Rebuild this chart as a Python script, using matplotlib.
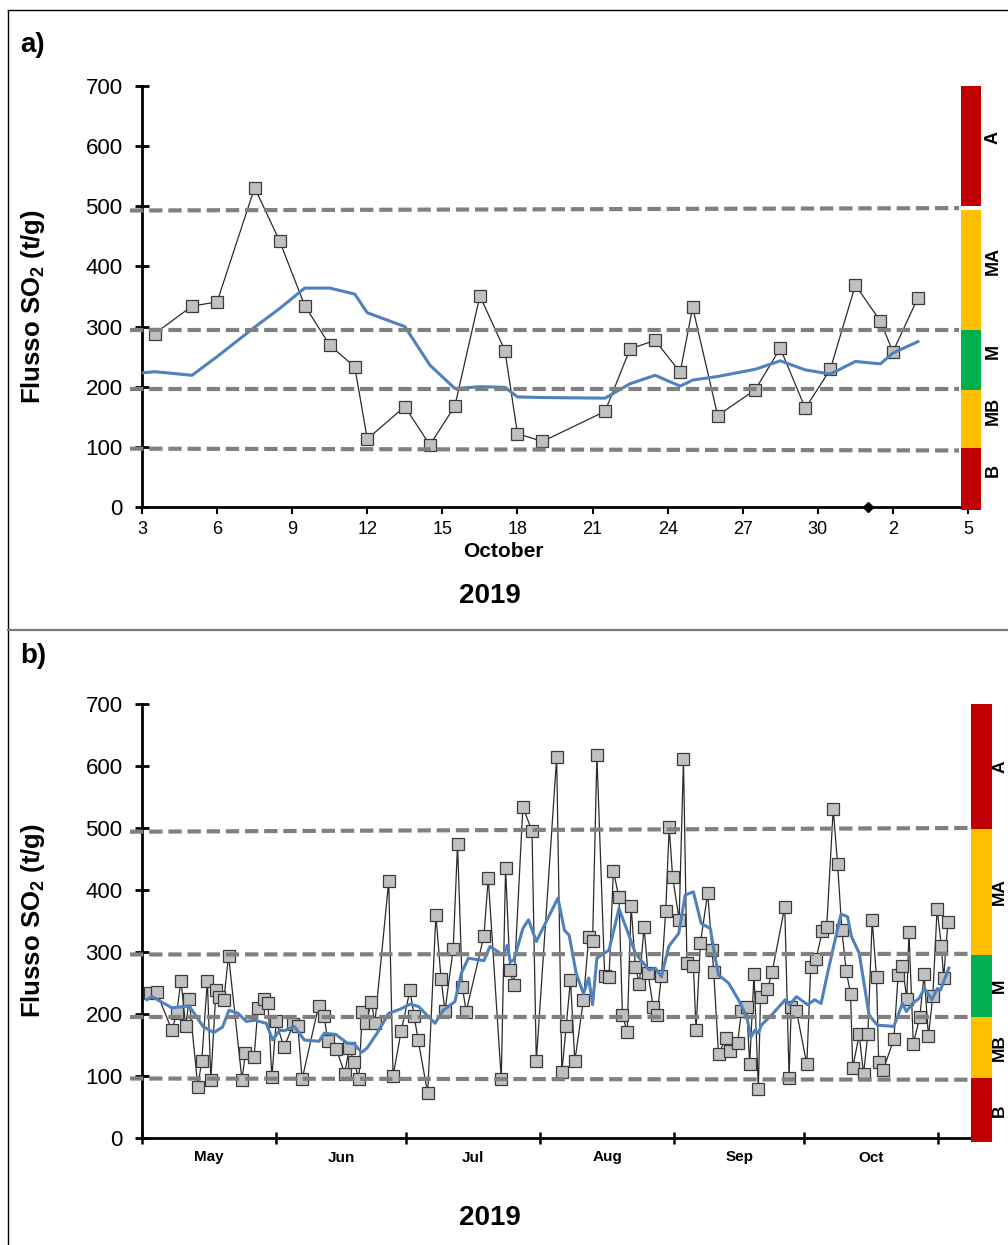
import matplotlib
matplotlib.use("Agg")
import matplotlib.pyplot as plt
from matplotlib.lines import Line2D
from matplotlib.patches import Rectangle

plt.rcParams['font.family'] = ['Liberation Sans', 'DejaVu Sans']
plt.rcParams['mathtext.fontset'] = 'custom'
plt.rcParams['mathtext.rm'] = 'Liberation Sans'
plt.rcParams['mathtext.bf'] = 'Liberation Sans:bold'

# ---------------- data ----------------
# Panel a: days from the first tick ("3")
a_days = [0.5, 2, 3, 4.5, 5.5, 6.5, 7.5, 8.5, 9, 10.5, 11.5, 12.5, 13.5, 14.5, 15,
          16, 18.5, 19.5, 20.5, 21.5, 22, 23, 24.5, 25.5, 26.5, 27.5, 28.5, 29.5, 30, 31]
a_flux = [288, 334, 341, 531, 442, 335, 269, 233, 113, 167, 103, 168, 351, 260, 122,
          109, 159, 263, 277, 224, 332, 152, 195, 264, 164, 229, 369, 309, 258, 348]
a_mean_days = [0, 0.5, 2, 3, 4.5, 5.5, 6.5, 7.5, 8.5, 9, 10.5, 11.5, 12.5, 13.5, 14.5,
               15, 16, 18.5, 19.5, 20.5, 21.5, 22, 23, 24.5, 25.5, 26.5, 27.5, 28.5,
               29.5, 30, 31]
a_mean = [223, 225, 219, 250, 299, 330, 364, 364, 354, 323, 300, 236, 197, 200, 199,
          183, 182, 181, 205, 219, 201, 211, 217, 229, 243, 228, 221, 242, 238, 256, 275]
a_tick_days = [0, 3, 6, 9, 12, 15, 18, 21, 24, 27, 30, 33]
a_tick_labels = ['3', '6', '9', '12', '15', '18', '21', '24', '27', '30', '2', '5']
a_marker_day = 29
a_level_start = [97, 196, 295, 493]
a_level_end = [94, 196, 295, 497]

# Panel b: days from 1 May; the last part is the same series as panel a
a_start_in_b = 155.2
b_days_early = [1.9, 3.4, 6.9, 8.0, 9.0, 10.1, 10.9, 12.9, 13.8, 15.1,
                15.9, 17.1, 17.8, 18.9, 20.0, 23.1, 23.9, 25.9, 26.8, 28.1,
                29.1, 30.0, 31.0, 32.8, 35.0, 36.0, 37.0, 40.8, 42.1, 42.9,
                44.9, 46.8, 47.9, 49.0, 50.1, 50.9, 51.8, 53.0, 53.8, 57.0,
                58.0, 59.9, 61.9, 62.9, 63.8, 66.0, 67.9, 69.1, 70.0, 71.9,
                72.9, 74.0, 74.9, 79.0, 80.0, 83.0, 84.0, 85.0, 85.9, 88.0,
                90.1, 91.1, 95.8, 97.0, 98.0, 99.0, 100.0, 102.0, 103.2, 104.1,
                105.1, 106.9, 107.9, 108.9, 110.2, 111.0, 112.1, 113.0, 114.0, 114.9,
                116.0, 116.9, 118.1, 119.0, 120.0, 121.0, 121.8, 122.6, 124.1, 125.1,
                125.9, 127.4, 128.0, 129.0, 130.7, 131.7, 132.1, 133.2, 134.9, 135.8,
                137.6, 138.5, 139.7, 140.4, 141.4, 142.4, 142.9, 144.5, 145.6, 148.5,
                149.5, 150.0, 151.2, 153.6, 154.5]
b_flux_early = [234, 235, 174, 201, 254, 180, 224, 83, 124, 254,
                94, 239, 228, 223, 294, 94, 137, 131, 210, 225,
                218, 98, 188, 146, 184, 180, 95, 213, 197, 156,
                144, 104, 145, 123, 95, 203, 185, 220, 185, 414,
                100, 173, 238, 196, 158, 72, 360, 256, 205, 305,
                474, 244, 204, 326, 419, 95, 436, 271, 246, 534,
                495, 124, 614, 106, 180, 255, 124, 223, 324, 317,
                617, 262, 259, 431, 388, 198, 171, 375, 276, 248,
                341, 266, 212, 198, 261, 366, 501, 421, 352, 611,
                283, 278, 174, 314, 395, 304, 267, 135, 161, 141,
                153, 205, 212, 119, 265, 79, 227, 240, 268, 373,
                97, 212, 205, 119, 276]
b_days = b_days_early + [d + a_start_in_b for d in a_days]
b_flux = b_flux_early + a_flux
b_mean_days = [1.1, 2.3, 6.9, 10.9, 14.1, 16.6, 18.6, 20.1, 22.2, 24.1, 26.0, 28.7,
               30.2, 31.8, 32.9, 35.2, 37.5, 40.9, 42.1, 44.8, 47.4, 49.0, 50.7, 52.0,
               54.3, 57.0, 59.7, 62.0, 63.9, 67.7, 69.6, 72.3, 73.8, 75.4, 79.0, 80.4,
               83.4, 84.4, 85.1, 85.9, 88.0, 89.3, 91.1, 96.1, 97.6, 98.7, 100.3, 102.0,
               103.2, 104.1, 105.1, 107.9, 110.2, 112.5, 114.0, 117.1, 118.6, 120.0,
               121.7, 124.0, 125.5, 127.4, 129.2, 131.3, 132.4, 133.2, 135.5, 137.8,
               139.7, 140.7, 141.6, 142.4, 143.1, 145.8, 148.6, 149.6, 151.2, 153.8,
               155.4, 156.9, 158.4, 160.3, 161.5, 163.0, 163.9, 165.7, 166.8, 168.0,
               169.9, 173.7, 175.7, 176.6, 178.0, 179.5, 180.8, 182.5, 183.7, 184.5, 186.4]
b_mean = [223, 228, 210, 213, 180, 170, 179, 206, 201, 188, 190, 185,
          158, 174, 173, 180, 158, 156, 169, 167, 153, 152, 138, 145,
          169, 201, 208, 216, 212, 185, 206, 220, 266, 290, 286, 309,
          295, 311, 284, 287, 338, 352, 317, 387, 335, 327, 266, 233,
          258, 215, 290, 303, 370, 327, 298, 271, 274, 260,
          309, 330, 392, 397, 346, 338, 292, 263, 250, 223,
          196, 163, 174, 169, 182, 201, 223, 215, 228, 215,
          223, 217, 266, 325, 361, 357, 325, 298, 250, 198,
          182, 180, 217, 204, 217, 225, 241, 223, 241, 239, 274]
b_month_starts = [0, 31, 61, 92, 123, 153, 184]
b_month_labels = ['May', 'Jun', 'Jul', 'Aug', 'Sep', 'Oct']
b_level_start = [96, 195, 296, 494]
b_level_end = [94, 195, 297, 500]

# activity classes (bands of the colour bar)
band_names = ['B', 'MB', 'M', 'MA', 'A']
band_colors = ['#C00000', '#FFC000', '#00B050', '#FFC000', '#C00000']
a_band_lo = [-5, 98, 194, 295, 500]
a_band_hi = [98, 194, 295, 494, 700]
b_band_lo = [-7, 96, 195, 295, 499]
b_band_hi = [96, 195, 295, 499, 700]

# ---------------- figure ----------------
W, H = 1008, 1245
fig = plt.figure(figsize=(W / 100, H / 100), dpi=100)
fig.patch.set_facecolor('white')


def fbox(left, top, right, bottom):
    return [left / W, 1 - bottom / H, (right - left) / W, (bottom - top) / H]


def fig_line(x0, y0, x1, y1, **kw):
    fig.add_artist(Line2D([x0 / W, x1 / W], [1 - y0 / H, 1 - y1 / H],
                          transform=fig.transFigure, **kw))


def fig_text(x, y, s, **kw):
    fig.text(x / W, 1 - y / H, s, ha='center', va='center', **kw)


# frame around the two panels
fig_line(8, 10, 1008, 10, color='black', lw=1.0)
fig_line(8, 10, 8, 1245, color='black', lw=1.0)
fig_line(8, 630, 1008, 630, color='#7a7a7a', lw=1.6)

ylabel = r'Flusso SO$_\mathbf{2}$ (t/g)'


def style_axes(ax, xmin, xmax):
    ax.set_ylim(0, 700)
    ax.set_xlim(xmin, xmax)
    for s in ['top', 'right']:
        ax.spines[s].set_visible(False)
    for s in ['left', 'bottom']:
        ax.spines[s].set_linewidth(2.0)
        ax.spines[s].set_color('black')
    ax.set_yticks(range(0, 701, 100))
    ax.tick_params(axis='y', direction='inout', length=10, width=2.0,
                   labelsize=16, pad=9)
    ax.set_ylabel(ylabel, fontsize=18.5, fontweight='bold')
    ax.patch.set_alpha(0)


def draw_series(ax, days, flux, mdays, mean):
    ax.plot(days, flux, '-', color='#2b2b2b', lw=0.9, zorder=3)
    ax.plot(days, flux, 's', ms=8.8, mfc='#C0C0C0', mec='#3a3a3a', mew=0.9, zorder=4)
    ax.plot(mdays, mean, '-', color='#4F81BD', lw=2.2, zorder=5)


def draw_levels(ax, x0_ax, x1_ax, lo_start, lo_end):
    for y0, y1 in zip(lo_start, lo_end):
        ax.add_line(Line2D([x0_ax, x1_ax], [y0, y1], transform=ax.get_yaxis_transform(),
                           color='#808080', lw=3.0, dashes=(3.2, 1.4),
                           clip_on=False, zorder=6))


def draw_bar(box, lo, hi, label_x, label_dy, label_size):
    axb = fig.add_axes(box)
    axb.set_xlim(0, 1)
    axb.set_ylim(0, 700)
    axb.axis('off')
    for l, h, c, n in zip(lo, hi, band_colors, band_names):
        axb.add_patch(Rectangle((0, l), 1, h - l, facecolor=c, edgecolor='none',
                                clip_on=False))
        axb.text(label_x, (l + h) / 2 + label_dy, n, rotation=90, ha='center',
                 va='center', fontsize=label_size, fontweight='bold', clip_on=False)


# ---------------- panel a ----------------
axa = fig.add_axes(fbox(142, 86, 968, 507))
style_axes(axa, 0, 33)
axa.set_xticks(a_tick_days)
axa.set_xticklabels(a_tick_labels)
axa.tick_params(axis='x', direction='out', length=5, width=1.5, labelsize=13, pad=5)
axa.yaxis.set_label_coords((47 - 142) / 826, 0.475)
draw_series(axa, a_days, a_flux, a_mean_days, a_mean)
axa.plot([a_marker_day], [0], 'D', color='black', ms=5, clip_on=False, zorder=7)
draw_levels(axa, (130 - 142) / 826, (959 - 142) / 826, a_level_start, a_level_end)
draw_bar(fbox(961, 86, 981, 507), a_band_lo, a_band_hi, 1.6, 14, 13)

fig_text(33, 45, 'a)', fontsize=20, fontweight='bold')
fig_text(503, 552, 'October', fontsize=15, fontweight='bold')
fig_text(490, 596, '2019', fontsize=20, fontweight='bold')

# ---------------- panel b ----------------
axb_main = fig.add_axes(fbox(142, 704, 970, 1138))
style_axes(axb_main, 1.22, 191.3)
axb_main.set_xticks(b_month_starts)
axb_main.set_xticklabels([''] * len(b_month_starts))
axb_main.tick_params(axis='x', which='major', direction='inout', length=9, width=1.8)
mids = [(b_month_starts[i] + b_month_starts[i + 1]) / 2 for i in range(len(b_month_labels))]
axb_main.set_xticks(mids, minor=True)
axb_main.set_xticklabels(b_month_labels, minor=True, fontsize=11, fontweight='bold')
axb_main.tick_params(axis='x', which='minor', length=0, pad=9)
axb_main.yaxis.set_label_coords((47 - 142) / 828, 0.5)
draw_series(axb_main, b_days, b_flux, b_mean_days, b_mean)
draw_levels(axb_main, (130 - 142) / 828, (969 - 142) / 828, b_level_start, b_level_end)
draw_bar(fbox(970.7, 704, 991.7, 1138), b_band_lo, b_band_hi, 1.38, 0, 12.5)

fig_text(33, 656, 'b)', fontsize=20, fontweight='bold')
fig_text(490, 1218, '2019', fontsize=20, fontweight='bold')

fig.savefig('out.png', dpi=100, facecolor='white')
